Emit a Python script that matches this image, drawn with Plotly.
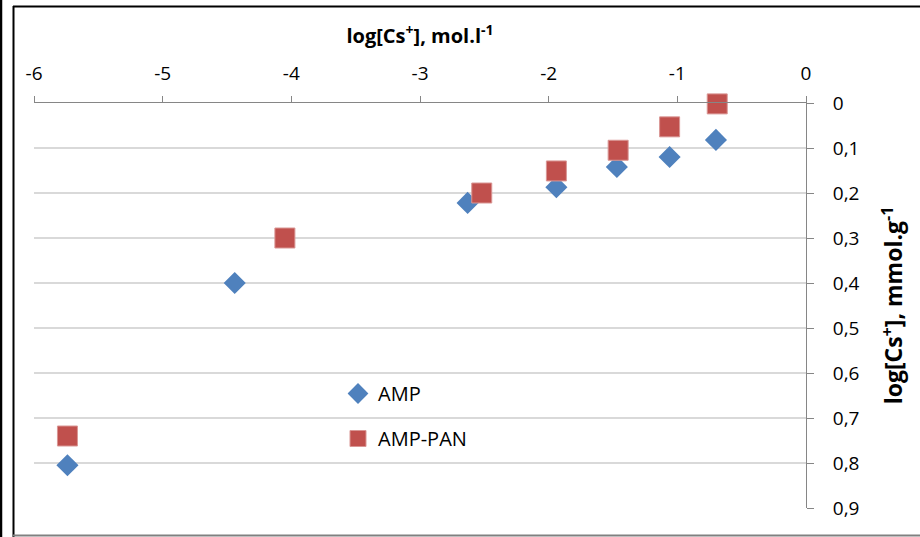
import plotly.graph_objects as go

# ---- data ----
amp_x = [-5.74, -4.44, -2.63, -1.94, -1.47, -1.06, -0.70]
amp_y = [0.805, 0.400, 0.222, 0.187, 0.142, 0.120, 0.082]

amppan_x = [-5.74, -4.05, -2.52, -1.94, -1.46, -1.06, -0.69]
amppan_y = [0.740, 0.300, 0.200, 0.151, 0.105, 0.053, 0.002]

x_tickvals = [-6, -5, -4, -3, -2, -1, 0]
x_ticktext = ["-6", "-5", "-4", "-3", "-2", "-1", "0"]
y_tickvals = [0, 0.1, 0.2, 0.3, 0.4, 0.5, 0.6, 0.7, 0.8, 0.9]

BLUE = "#4F81BD"
RED = "#C0504D"
FONT = "Open Sans"

fig = go.Figure()
fig.add_trace(go.Scatter(
    x=amp_x, y=amp_y, mode="markers", name="AMP", legendgroup="a",
    cliponaxis=False,
    marker=dict(symbol="diamond", size=17, color=BLUE,
                line=dict(width=0)),
))
fig.add_trace(go.Scatter(
    x=amppan_x, y=amppan_y, mode="markers", name="AMP-PAN", legendgroup="b",
    cliponaxis=False,
    marker=dict(symbol="square", size=20, color=RED,
                line=dict(width=1, color="#D99694")),
))

W, H = 920, 537
L, R, T, B = 34, 806, 103, 508


def px(xp):
    return (xp - L) / (R - L)


def py(yp):
    return (B - yp) / (B - T)


shapes = [
    # outer frame lines
    dict(type="line", xref="paper", yref="paper", x0=px(1), x1=px(1), y0=py(0), y1=py(537),
         line=dict(color="black", width=2.5)),
    dict(type="line", xref="paper", yref="paper", x0=px(13.5), x1=px(13.5), y0=py(6), y1=py(537),
         line=dict(color="black", width=2)),
    dict(type="line", xref="paper", yref="paper", x0=px(13), x1=px(921), y0=py(6.5), y1=py(6.5),
         line=dict(color="black", width=2)),
    dict(type="line", xref="paper", yref="paper", x0=px(13), x1=px(921), y0=py(535.5), y1=py(535.5),
         line=dict(color="#808080", width=2)),
]

fig.update_layout(
    width=W, height=H,
    margin=dict(l=L, r=W - R, t=T, b=H - B, autoexpand=False),
    paper_bgcolor="white", plot_bgcolor="white",
    separators=", ",
    font=dict(family=FONT, size=20, color="#000000"),
    showlegend=True,
    legend=dict(x=px(338), y=py(374), xanchor="left", yanchor="top",
                bgcolor="rgba(0,0,0,0)", font=dict(size=20, family=FONT),
                tracegroupgap=16),
    shapes=shapes,
    xaxis=dict(
        side="top", range=[-6, 0], tickvals=x_tickvals, ticktext=x_ticktext,
        showgrid=False, zeroline=False,
        showline=True, linecolor="#868686", linewidth=1,
        ticks="outside", ticklen=6, tickcolor="#868686",
        ticklabelstandoff=8,
        tickfont=dict(size=19, family=FONT),
        title=dict(text="<b>log[Cs<sup>+</sup>], mol.l<sup>-1</sup></b>",
                   font=dict(size=20, family=FONT), standoff=11),
    ),
    yaxis=dict(
        side="right", range=[0.9, 0], tickvals=y_tickvals, tickformat=".1~f",
        showgrid=True, gridcolor="#D9D9D9", gridwidth=1.5, zeroline=False,
        showline=True, linecolor="#868686", linewidth=1,
        ticks="outside", ticklen=7, tickcolor="#868686",
        ticklabelstandoff=15,
        tickfont=dict(size=19, family=FONT),
        title=dict(text="<b>log[Cs<sup>+</sup>], mmol.g<sup>-1</sup></b>",
                   font=dict(size=23, family=FONT), standoff=27),
    ),
)

fig.write_html("out.html", config={"displayModeBar": False},
               post_script="document.body.style.margin='0px';")
